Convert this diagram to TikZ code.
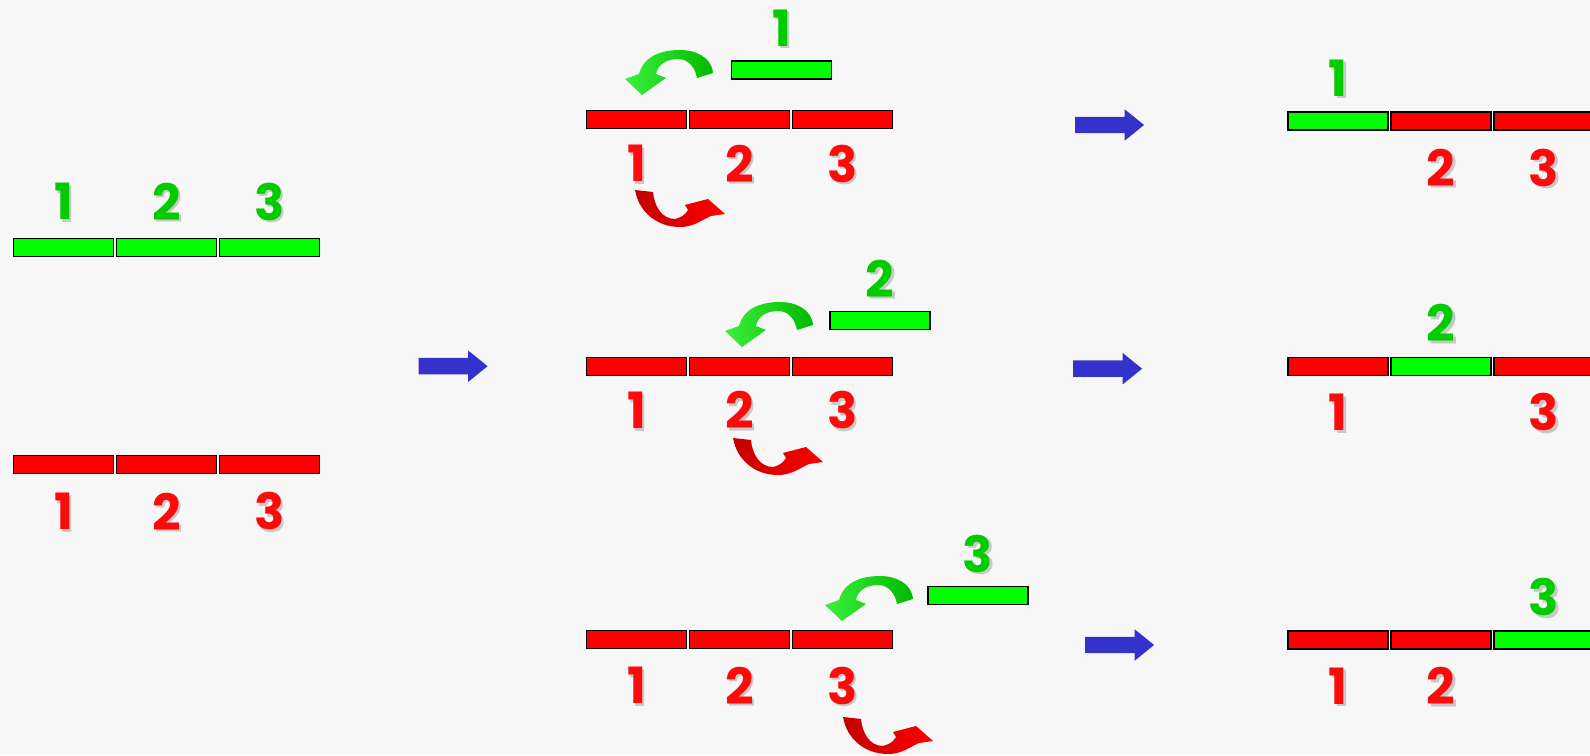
\documentclass[tikz,border=0pt]{standalone}
\usepackage{fontspec}
\newfontfamily\numfont{Poppins}
\usepackage{tikz}
\usetikzlibrary{positioning,shapes.arrows}

\definecolor{bgcol}{RGB}{247,247,247}
\definecolor{barG}{RGB}{0,255,0}
\definecolor{barR}{RGB}{255,0,0}
\definecolor{numG}{RGB}{0,204,0}
\definecolor{numR}{RGB}{255,10,10}
\definecolor{arrB}{RGB}{51,51,204}
\definecolor{shcol}{RGB}{200,200,200}
\definecolor{curlGa}{RGB}{60,240,60}
\definecolor{curlGb}{RGB}{0,185,0}
\definecolor{curlRa}{RGB}{195,0,0}
\definecolor{curlRb}{RGB}{255,0,0}

% digit with its grey drop shadow
\newcommand\sh[1]{\rlap{\kern2.5pt\raisebox{-2.5pt}[0pt][0pt]{\color{shcol}#1}}#1}

% curved arrows, given by the top of the arc / the start of the band
\newcommand\gturn[2]{%
  \shade[left color=curlGa,right color=curlGb,shift={(#1,#2)}]
    (17,-28) -- (33,-23) to[out=95,in=0] (0,0) to[out=180,in=75] (-41,-24)
    -- (-55,-29) -- (-38,-45) -- (-14,-28) -- (-24,-24)
    to[out=80,in=180] (-2,-9) to[out=0,in=100] (17,-28) -- cycle;}
\newcommand\rturn[2]{%
  \shade[left color=curlRa,right color=curlRb,shift={(#1,#2)}]
    (0,0) -- (18,-2) to[out=-85,in=180] (40,-29) to[out=15,in=-120] (53,-20)
    -- (50,-15) -- (73,-9) -- (90,-24) -- (76,-26)
    to[out=-155,in=0] (45,-37) to[out=180,in=-80] (0,0) -- cycle;}

\begin{document}
\begin{tikzpicture}[x=1pt,y=1pt,
	gbar/.style={draw=black,line width=1.5pt,fill=barG,minimum width=100pt,minimum height=18pt,inner sep=0pt,outer sep=0pt},
	rbar/.style={gbar,fill=barR},
	gnum/.style={text=numG,inner sep=0pt,font={\numfont\bfseries\fontsize{50}{50}\selectfont}},
	rnum/.style={gnum,text=numR},
	pusharr/.style={single arrow,fill=arrB,draw=none,inner sep=8pt,minimum height=69pt,single arrow head extend=7.5pt,single arrow tip angle=78}]
	\useasboundingbox (0,0) rectangle (1590,755);
	\clip (0,0) rectangle (1590,755);
	\fill[bgcol] (0,0) rectangle (1590,755);

	% left: the two whole bars
	\node[gbar] (lg1) at (63.5,507.5) {};
	\node[gbar,right=3pt of lg1] (lg2) {};
	\node[gbar,right=3pt of lg2] (lg3) {};
	\node[gnum,yshift=46pt] (lgn1) at (lg1) {\sh{1}};
	\node[gnum,yshift=46pt] (lgn2) at (lg2) {\sh{2}};
	\node[gnum,yshift=46pt] (lgn3) at (lg3) {\sh{3}};

	\node[rbar] (lr1) at (63.5,290.6) {};
	\node[rbar,right=3pt of lr1] (lr2) {};
	\node[rbar,right=3pt of lr2] (lr3) {};
	\node[rnum,yshift=-47pt] (lrn1) at (lr1) {\sh{1}};
	\node[rnum,yshift=-47pt] (lrn2) at (lr2) {\sh{2}};
	\node[rnum,yshift=-47pt] (lrn3) at (lr3) {\sh{3}};

	\node[pusharr] (p0) at (448,388.8) {};

	% middle: one green piece swapped in at a time
	\node[rbar] (a1) at (636.5,635.3) {};
	\node[rbar,right=3pt of a1] (a2) {};
	\node[rbar,right=3pt of a2] (a3) {};
	\node[rnum,yshift=-44pt] (an1) at (a1) {\sh{1}};
	\node[rnum,yshift=-44pt] (an2) at (a2) {\sh{2}};
	\node[rnum,yshift=-44pt] (an3) at (a3) {\sh{3}};
	\node[gbar] (ag) at (781.5,685) {};
	\node[gnum,yshift=42pt] (agn) at (ag) {\sh{1}};
	\gturn{680}{705}
	\rturn{635}{565}

	\node[rbar] (b1) at (636.5,388.7) {};
	\node[rbar,right=3pt of b1] (b2) {};
	\node[rbar,right=3pt of b2] (b3) {};
	\node[rnum,yshift=-44pt] (bn1) at (b1) {\sh{1}};
	\node[rnum,yshift=-44pt] (bn2) at (b2) {\sh{2}};
	\node[rnum,yshift=-44pt] (bn3) at (b3) {\sh{3}};
	\node[gbar] (bg) at (880,434.5) {};
	\node[gnum,yshift=42pt] (bgn) at (bg) {\sh{2}};
	\gturn{780}{453}
	\rturn{733}{317}

	\node[rbar] (c1) at (636.5,115.5) {};
	\node[rbar,right=3pt of c1] (c2) {};
	\node[rbar,right=3pt of c2] (c3) {};
	\node[rnum,yshift=-46pt] (cn1) at (c1) {\sh{1}};
	\node[rnum,yshift=-46pt] (cn2) at (c2) {\sh{2}};
	\node[rnum,yshift=-46pt] (cn3) at (c3) {\sh{3}};
	\node[gbar] (cg) at (978,159.5) {};
	\node[gnum,yshift=42pt] (cgn) at (cg) {\sh{3}};
	\gturn{880}{179}
	\rturn{843}{38}

	\node[pusharr] (p1) at (1104.5,630) {};
	\node[pusharr] (p2) at (1102.5,386.3) {};
	\node[pusharr] (p3) at (1114.5,110) {};

	% right: the results
	\node[gbar] (ra1) at (1338,634) {};
	\node[rbar,right=3pt of ra1] (ra2) {};
	\node[rbar,right=3pt of ra2] (ra3) {};
	\node[gnum,yshift=43pt] (ran1) at (ra1) {\sh{1}};
	\node[rnum,yshift=-46.5pt] (ran2) at (ra2) {\sh{2}};
	\node[rnum,yshift=-46.5pt] (ran3) at (ra3) {\sh{3}};

	\node[rbar] (rb1) at (1338,388.7) {};
	\node[gbar,right=3pt of rb1] (rb2) {};
	\node[rbar,right=3pt of rb2] (rb3) {};
	\node[rnum,yshift=-46pt] (rbn1) at (rb1) {\sh{1}};
	\node[gnum,yshift=43pt] (rbn2) at (rb2) {\sh{2}};
	\node[rnum,yshift=-46pt] (rbn3) at (rb3) {\sh{3}};

	\node[rbar] (rc1) at (1338,115) {};
	\node[rbar,right=3pt of rc1] (rc2) {};
	\node[gbar,right=3pt of rc2] (rc3) {};
	\node[rnum,yshift=-46pt] (rcn1) at (rc1) {\sh{1}};
	\node[rnum,yshift=-46pt] (rcn2) at (rc2) {\sh{2}};
	\node[gnum,yshift=43pt] (rcn3) at (rc3) {\sh{3}};
\end{tikzpicture}
\end{document}
